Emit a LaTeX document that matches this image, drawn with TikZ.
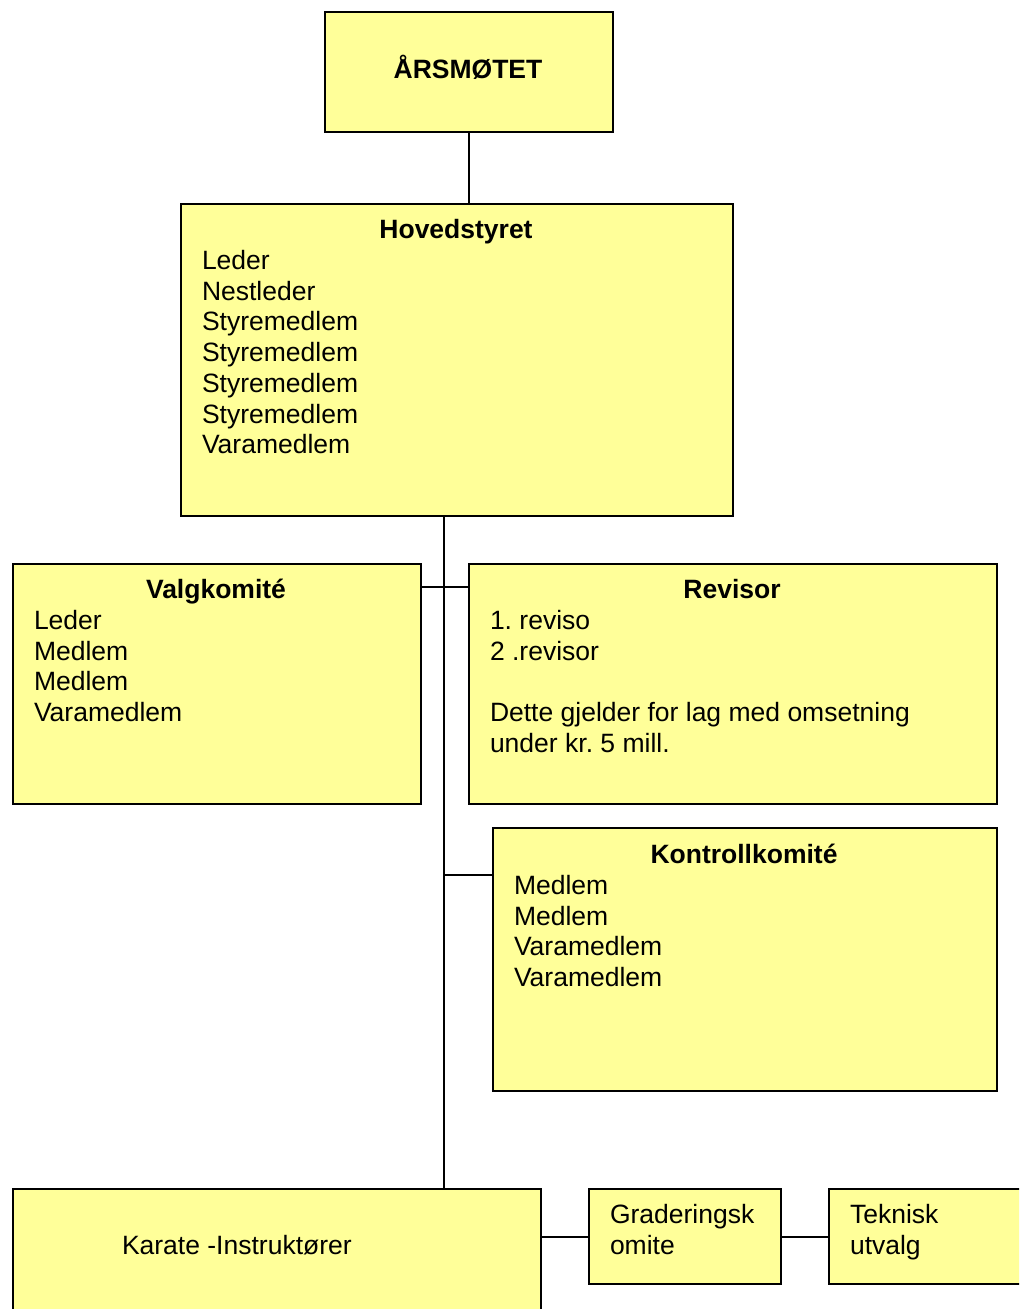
\documentclass[tikz,border=0pt]{standalone}
\usepackage{fontspec}
\setmainfont{Liberation Sans}
\usepackage{xcolor}
\usepackage{tikz}
\definecolor{orgyellow}{HTML}{FFFF99}
\frenchspacing

\begin{document}
\begin{tikzpicture}[x=0.5pt,y=-0.5pt,line width=1pt,
    box/.style={draw,fill=orgyellow,anchor=north west,inner sep=0pt},
    title/.style={font=\fontsize{13.25pt}{15.4pt}\selectfont\bfseries,anchor=base,inner sep=0pt},
    item/.style={font=\fontsize{13.25pt}{15.4pt}\selectfont,anchor=base west,inner sep=0pt}]
      \useasboundingbox (0,0) rectangle (1019,1309);
      \clip (0,0) rectangle (1019,1309);

      \node[box,minimum width=144pt,minimum height=60pt]    (aars) at (324,11)   {};
      \node[title]                                          (aarsT) at (468,78.6) {ÅRSMØTET};

      \node[box,minimum width=276pt,minimum height=156pt]   (hs) at (180,203)    {};
      \node[title]                                          (hsT) at (456,238.6) {Hovedstyret};
      \foreach \txt [count=\i] in {Leder,Nestleder,Styremedlem,Styremedlem,Styremedlem,Styremedlem,Varamedlem}
        \node[item] (hs\i) at (201,{238.6+30.75*\i}) {\txt};

      \node[box,minimum width=204pt,minimum height=120pt]   (valg) at (12,563)   {};
      \node[title]                                          (valgT) at (216,598.6) {Valgkomité};
      \foreach \txt [count=\i] in {Leder,Medlem,Medlem,Varamedlem}
        \node[item] (valg\i) at (33,{598.6+30.75*\i}) {\txt};

      \node[box,minimum width=264pt,minimum height=120pt]   (rev) at (468,563)   {};
      \node[title]                                          (revT) at (732,598.6) {Revisor};
      \foreach \txt [count=\i] in {1. reviso,2 .revisor,,Dette gjelder for lag med omsetning,under kr. 5 mill.}
        \node[item] (rev\i) at (489,{598.6+30.75*\i}) {\txt};

      \node[box,minimum width=252pt,minimum height=131.5pt] (kk) at (492,827)    {};
      \node[title]                                          (kkT) at (744,863.6) {Kontrollkomité};
      \foreach \txt [count=\i] in {Medlem,Medlem,Varamedlem,Varamedlem}
        \node[item] (kk\i) at (513,{863.6+30.75*\i}) {\txt};

      \node[box,minimum width=264pt,minimum height=100pt]   (karate) at (12,1188) {};
      \node[item]                                           (karateT) at (121,1254.4) {Karate -Instruktører};

      \node[box,minimum width=96pt,minimum height=47.5pt]   (grad) at (588,1188) {};
      \node[item]                                           (grad1) at (609,1223.6) {Graderingsk};
      \node[item]                                           (grad2) at (609,1254.4) {omite};

      \node[box,minimum width=125pt,minimum height=47.5pt]  (tek) at (828,1188)  {};
      \node[item]                                           (tek1) at (849,1223.6) {Teknisk};
      \node[item]                                           (tek2) at (849,1254.4) {utvalg};

      \coordinate (trunk) at (444,515);

      \draw (aars.south) -- (aars.south |- hs.north);
      \draw (trunk) -- (trunk |- karate.north);
      \draw ([yshift=-12pt]valg.north east) -- ([yshift=-12pt]rev.north west);
      \draw ([yshift=-24pt]kk.north west) -- ([yshift=-24pt]kk.north west -| trunk);
      \draw (grad.west) -- (grad.west -| karate.east);
      \draw (grad.east) -- (tek.west);
    \end{tikzpicture}
\end{document}
